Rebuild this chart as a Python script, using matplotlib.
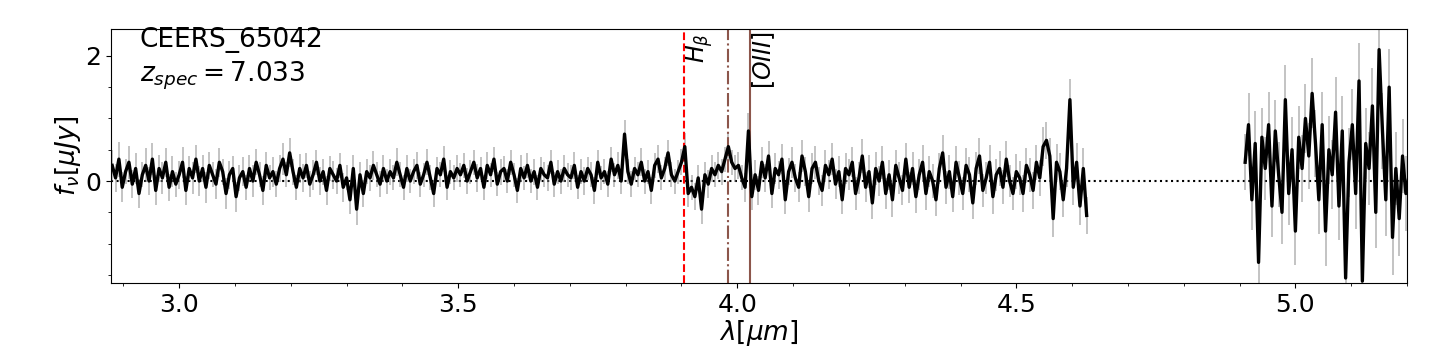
import numpy as np
import matplotlib.pyplot as plt
from matplotlib.ticker import MultipleLocator

# flux, blue chip (starts at 2.880 um, step 0.006 um)
flux1 = [0.25, 0.05, 0.35, -0.1, 0.15, 0.3, -0.05, 0.2, -0.2, 0.1, 0.25, 0.0, 0.35, -0.15, 0.2, 0.05, 0.3, -0.1, 0.15, -0.05,
         0.1, 0.3, -0.15, 0.2, 0.05, 0.35, 0.0, 0.2, -0.1, 0.25, 0.1, -0.05, 0.3, 0.15, -0.2, 0.1, 0.2,
         -0.25, 0.05, 0.15, -0.1, 0.2, 0.0, 0.3, 0.1, -0.15, 0.25, 0.05, 0.15, -0.05, 0.2, 0.35, 0.1, 0.45,
         0.15, -0.1, 0.2, 0.05, 0.25, -0.05, 0.1, 0.3, 0.0, 0.15, -0.15, 0.2, 0.1, 0.0, 0.25, -0.1,
         0.05, -0.3, 0.2, -0.45, 0.1, -0.2, 0.15, 0.05, 0.25, 0.1, -0.05, 0.2, 0.0, 0.15, 0.05, 0.3, 0.1,
         -0.1, 0.2, 0.0, 0.15, 0.25, -0.05, 0.1, 0.3, 0.05, -0.2, 0.2, 0.1, 0.35, -0.1, 0.15, 0.05, 0.2,
         0.1, 0.25, 0.0, 0.15, 0.3, 0.05, 0.2, -0.1, 0.25, 0.1, 0.35, -0.05, 0.15, 0.2, 0.0, 0.3,
         0.1, -0.15, 0.2, 0.05, 0.25, 0.0, 0.15, -0.1, 0.2, 0.1, 0.05, 0.3, -0.05, 0.15, 0.0, 0.2, 0.1,
         0.05, 0.25, -0.1, 0.15, 0.0, 0.2, 0.1, -0.15, 0.3, 0.05, 0.15, -0.05, 0.35, 0.1, 0.25, 0.0, 0.75,
         0.15, -0.05, 0.2, 0.1, 0.3, 0.0, 0.15, -0.15, 0.25, 0.35, 0.05, 0.2, 0.45, 0.1, 0.0, 0.15, 0.3,
         0.55, -0.2, -0.1, -0.25, 0.05, -0.45, 0.1, -0.05, 0.2, 0.1, 0.25, 0.15, 0.35, 0.55, 0.3, 0.2,
         0.25, 0.05, -0.1, 0.8, -0.25, 0.1, -0.15, 0.3, 0.05, 0.4, -0.2, 0.2, 0.1, 0.35, -0.3, 0.15, 0.3,
         0.05, -0.1, 0.4, 0.15, -0.25, 0.2, 0.3, 0.0, -0.15, 0.25, 0.1, 0.35, -0.05, 0.15, -0.3, 0.2,
         0.1, 0.3, -0.2, 0.05, 0.4, -0.1, 0.15, -0.35, 0.2, 0.0, 0.3, -0.2, 0.1, -0.3, 0.25, 0.05, -0.15,
         0.35, -0.1, 0.2, -0.25, 0.1, 0.3, -0.2, 0.15, 0.0, -0.3, 0.2, 0.45, -0.1, 0.15, -0.25, 0.3, 0.05,
         -0.2, 0.25, 0.1, -0.35, 0.2, 0.4, -0.15, 0.05, 0.3, -0.25, 0.1, 0.2, -0.1, 0.35, 0.0, -0.2,
         0.15, 0.05, -0.2, 0.25, 0.1, -0.15, 0.3, 0.05, 0.55, 0.65, 0.4, -0.6, 0.3, 0.15, -0.3, 0.2, 1.3,
         -0.1, 0.3, -0.4, 0.2, -0.55]
err1 = [0.25, 0.22, 0.28, 0.24, 0.2, 0.26, 0.22, 0.25, 0.23, 0.2, 0.27, 0.22, 0.25, 0.24, 0.21, 0.26, 0.23, 0.22, 0.25, 0.2,
        0.22, 0.25, 0.23, 0.2, 0.26, 0.22, 0.24, 0.21, 0.25, 0.22, 0.2, 0.24, 0.23, 0.21, 0.25, 0.22, 0.2,
        0.24, 0.21, 0.23, 0.2, 0.22, 0.25, 0.21, 0.2, 0.23, 0.22, 0.2, 0.24, 0.21, 0.22, 0.25, 0.2, 0.23,
        0.21, 0.2, 0.23, 0.22, 0.2, 0.21, 0.24, 0.2, 0.22, 0.21, 0.23, 0.2, 0.22, 0.21, 0.2, 0.23,
        0.2, 0.22, 0.21, 0.25, 0.2, 0.22, 0.2, 0.21, 0.23, 0.2, 0.21, 0.22, 0.2, 0.21, 0.2, 0.22, 0.2,
        0.2, 0.21, 0.19, 0.2, 0.22, 0.2, 0.19, 0.21, 0.2, 0.22, 0.19, 0.2, 0.21, 0.2, 0.19, 0.2, 0.21,
        0.19, 0.2, 0.21, 0.19, 0.2, 0.22, 0.19, 0.2, 0.21, 0.19, 0.2, 0.19, 0.21, 0.2, 0.19, 0.2,
        0.19, 0.2, 0.21, 0.19, 0.2, 0.19, 0.21, 0.2, 0.19, 0.2, 0.21, 0.19, 0.2, 0.19, 0.2, 0.21, 0.19,
        0.2, 0.21, 0.19, 0.2, 0.22, 0.19, 0.2, 0.21, 0.2, 0.19, 0.2, 0.21, 0.2, 0.19, 0.21, 0.2, 0.22,
        0.2, 0.21, 0.19, 0.2, 0.22, 0.2, 0.19, 0.21, 0.2, 0.22, 0.2, 0.19, 0.21, 0.2, 0.2, 0.19, 0.21,
        0.22, 0.21, 0.2, 0.22, 0.21, 0.23, 0.2, 0.22, 0.21, 0.2, 0.22, 0.21, 0.2, 0.22, 0.2, 0.21,
        0.22, 0.2, 0.23, 0.28, 0.22, 0.24, 0.23, 0.25, 0.22, 0.24, 0.23, 0.25, 0.22, 0.24, 0.23, 0.22, 0.25,
        0.23, 0.24, 0.26, 0.23, 0.25, 0.24, 0.26, 0.23, 0.25, 0.24, 0.23, 0.26, 0.24, 0.25, 0.23, 0.24,
        0.25, 0.24, 0.26, 0.25, 0.27, 0.24, 0.26, 0.25, 0.27, 0.24, 0.26, 0.25, 0.24, 0.27, 0.25, 0.26, 0.24,
        0.26, 0.25, 0.27, 0.26, 0.25, 0.28, 0.26, 0.25, 0.27, 0.26, 0.25, 0.28, 0.26, 0.27, 0.25, 0.26, 0.27,
        0.26, 0.27, 0.28, 0.26, 0.27, 0.29, 0.27, 0.26, 0.28, 0.27, 0.26, 0.28, 0.27, 0.29, 0.26, 0.27,
        0.28, 0.27, 0.29, 0.28, 0.27, 0.3, 0.28, 0.29, 0.31, 0.3, 0.28, 0.3, 0.29, 0.3, 0.28, 0.3, 0.33,
        0.29, 0.31, 0.3, 0.32, 0.3]

# red chip (starts at 4.910 um, step 0.006 um)
flux2 = [0.3, 0.9, -0.3, 0.6, -1.3, 0.7, 0.2, 0.9, -0.4, 0.8,
         0.1, -0.5, 1.3, -0.2, 0.5, -0.8, 0.7, 0.2, 1.0, 0.4,
         1.4, 0.6, -0.3, 0.9, -0.8, 0.5, 0.1, 1.1, -0.4, 0.8,
         -1.55, 0.3, 0.9, -0.2, 1.6, -1.6, 0.6, 0.2, 1.2, -0.5,
         2.1, 0.8, -0.3, 1.5, -0.9, 0.2, -0.6, 0.4, -0.2, 0.1]
err2 = [0.45, 0.5, 0.48, 0.52, 0.5, 0.47, 0.5, 0.53, 0.49, 0.5,
        0.52, 0.5, 0.55, 0.5, 0.52, 0.54, 0.5, 0.53, 0.55, 0.52,
        0.56, 0.53, 0.55, 0.52, 0.56, 0.54, 0.55, 0.57, 0.54, 0.56,
        0.58, 0.55, 0.57, 0.56, 0.6, 0.58, 0.56, 0.59, 0.6, 0.57,
        0.62, 0.6, 0.58, 0.61, 0.6, 0.58, 0.6, 0.59, 0.6, 0.58]

name = 'CEERS_65042'
z = 7.033
lines_rest = [0.48613, 0.49589, 0.50068]   # Hb, [OIII]4959, [OIII]5007 in um

wl1 = 2.880 + 0.006 * np.arange(len(flux1))
wl2 = 4.910 + 0.006 * np.arange(len(flux2))

plt.rcParams['mathtext.fontset'] = 'dejavusans'
fig = plt.figure(figsize=(14.35, 3.58), dpi=100)
ax = fig.add_axes([0.0774, 0.2095, 0.9031, 0.7095])

ax.axhline(0, color='k', ls=':', lw=1.5, zorder=1)
for wl, fl, er in [(wl1, flux1, err1), (wl2, flux2, err2)]:
    ax.errorbar(wl, fl, yerr=er, fmt='none', ecolor='grey', elinewidth=1.1, alpha=0.6, zorder=2)
    ax.plot(wl, fl, color='k', lw=2.4, zorder=3)

obs = [l * (1 + z) for l in lines_rest]
ax.axvline(obs[0], color='red', ls='--', lw=1.5)
ax.axvline(obs[1], color='tab:brown', ls='-.', lw=1.5)
ax.axvline(obs[2], color='tab:brown', ls='-', lw=1.5)
ax.text(obs[0] + 0.027, 2.37, r'$H_{\beta}$', rotation=90, va='top', ha='center', fontsize=17)
ax.text(obs[2] + 0.025, 2.39, r'$[OIII]$', rotation=90, va='top', ha='center', fontsize=17)

ax.text(0.022, 0.955, name, transform=ax.transAxes, fontsize=19, va='center')
ax.text(0.022, 0.815, r'$z_{spec} = $' + '%.3f' % z, transform=ax.transAxes, fontsize=19, va='center')

ax.set_xlim(2.878, 5.2)
ax.set_ylim(-1.63, 2.43)
ax.xaxis.set_major_locator(MultipleLocator(0.5))
ax.xaxis.set_minor_locator(MultipleLocator(0.1))
ax.yaxis.set_major_locator(MultipleLocator(2))
ax.yaxis.set_minor_locator(MultipleLocator(0.5))
ax.tick_params(labelsize=18)
ax.set_xlabel(r'$\lambda [\mu m]$', fontsize=19, labelpad=1)
ax.set_ylabel(r'$f_{\nu} [\mu Jy]$', fontsize=19, labelpad=2)

fig.savefig('out.png', dpi=100)
